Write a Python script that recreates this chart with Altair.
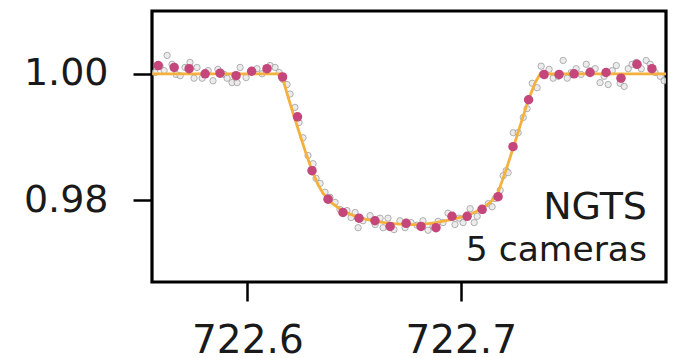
import altair as alt
import pandas as pd

# raw (unbinned) photometry
raw_time = [722.5567, 722.5591, 722.5610, 722.5624, 722.5647, 722.5666, 722.5685, 722.5708, 722.5731, 722.5750,
            722.5764, 722.5788, 722.5816, 722.5839, 722.5862, 722.5891, 722.5905, 722.5928, 722.5952, 722.5966,
            722.5994, 722.6022, 722.6045, 722.6069, 722.6088, 722.6106, 722.6130, 722.6149, 722.6167,
            722.6186, 722.6200, 722.6223, 722.6242, 722.6261, 722.6284, 722.6308, 722.6322, 722.6341, 722.6364,
            722.6387, 722.6411, 722.6434, 722.6467, 722.6486, 722.6505, 722.6519, 722.6542, 722.6575, 722.6599,
            722.6622, 722.6636, 722.6659, 722.6687, 722.6715, 722.6739, 722.6767, 722.6795, 722.6823, 722.6847,
            722.6870, 722.6894, 722.6917, 722.6940, 722.6973, 722.6992, 722.7011, 722.7044, 722.7063, 722.7077,
            722.7105, 722.7129, 722.7147, 722.7161, 722.7185, 722.7199, 722.7213, 722.7222, 722.7246, 722.7269,
            722.7293, 722.7311, 722.7335, 722.7358, 722.7377, 722.7395, 722.7414, 722.7433, 722.7457, 722.7480,
            722.7499, 722.7518, 722.7541, 722.7564, 722.7588, 722.7607, 722.7630, 722.7653, 722.7672, 722.7691,
            722.7710, 722.7729, 722.7747, 722.7766, 722.7785, 722.7803, 722.7822, 722.7846, 722.7869, 722.7888,
            722.7911, 722.7935, 722.7953]
raw_flux = [1.0002, 1.0012, 1.0005, 1.0029, 1.0015, 0.9999, 0.9997, 1.0010, 1.0018, 0.9993,
            1.0010, 0.9993, 1.0005, 0.9989, 1.0007, 0.9999, 0.9993, 0.9986, 0.9986, 1.0010,
            0.9994, 1.0005, 1.0008, 1.0000, 1.0005, 1.0013, 1.0010, 1.0002, 0.9991,
            0.9983, 0.9968, 0.9947, 0.9923, 0.9899, 0.9871, 0.9858, 0.9835, 0.9827, 0.9813,
            0.9805, 0.9797, 0.9786, 0.9784, 0.9773, 0.9781, 0.9757, 0.9768, 0.9776, 0.9762,
            0.9772, 0.9757, 0.9772, 0.9754, 0.9768, 0.9757, 0.9765, 0.9761, 0.9768, 0.9753,
            0.9759, 0.9767, 0.9765, 0.9780, 0.9762, 0.9772, 0.9765, 0.9787, 0.9765, 0.9775,
            0.9784, 0.9795, 0.9790, 0.9803, 0.9816, 0.9839, 0.9847, 0.9844, 0.9907, 0.9907,
            0.9931, 0.9945, 0.9985, 0.9978, 1.0012, 0.9997, 1.0007, 0.9993, 0.9996, 1.0021,
            0.9993, 1.0002, 1.0008, 0.9999, 1.0015, 1.0005, 1.0008, 0.9986, 0.9996, 0.9983,
            1.0005, 1.0013, 0.9985, 0.9980, 1.0008, 1.0015, 1.0018, 1.0008, 1.0021, 1.0015,
            1.0002, 0.9996, 0.9989]

# binned photometry
bin_time = [722.5582, 722.5657, 722.5727, 722.5802, 722.5872, 722.5947, 722.6020, 722.6092, 722.6165, 722.6235,
            722.6303, 722.6378, 722.6448, 722.6523, 722.6598, 722.6669, 722.6744, 722.6814, 722.6884, 722.6959,
            722.7030, 722.7100, 722.7175, 722.7245, 722.7318, 722.7390, 722.7461, 722.7531, 722.7606, 722.7681,
            722.7751, 722.7826, 722.7896]
bin_flux = [1.0013, 1.0010, 1.0008, 1.0000, 1.0001, 0.9997, 1.0004, 1.0008, 0.9995, 0.9932,
            0.9847, 0.9802, 0.9781, 0.9772, 0.9768, 0.9759, 0.9764, 0.9759, 0.9757, 0.9775,
            0.9775, 0.9786, 0.9806, 0.9885, 0.9959, 0.9999, 0.9999, 1.0000, 1.0002, 1.0002,
            0.9993, 1.0015, 1.0008]

# transit model
model_time = [722.5555, 722.6159, 722.6200, 722.6233, 722.6270, 722.6303, 722.6331, 722.6355, 722.6387, 722.6448,
              722.6523, 722.6598, 722.6669, 722.6744, 722.6814, 722.6884, 722.6959, 722.7030, 722.7100, 722.7138,
              722.7171, 722.7208, 722.7245, 722.7283, 722.7316, 722.7349, 722.7372, 722.7965]
model_flux = [1.0000, 1.0000, 0.9953, 0.9918, 0.9879, 0.9847, 0.9825, 0.9811, 0.9798, 0.9783,
              0.9773, 0.9767, 0.9764, 0.9762, 0.9762, 0.9765, 0.9770, 0.9776, 0.9787, 0.9797,
              0.9809, 0.9844, 0.9882, 0.9923, 0.9958, 0.9986, 1.0000, 1.0000]

x_ticks = [722.6, 722.7]
y_ticks = [0.98, 1.00]

raw = pd.DataFrame({"t": raw_time, "f": raw_flux})
binned = pd.DataFrame({"t": bin_time, "f": bin_flux})
model = pd.DataFrame({"t": model_time, "f": model_flux})

W, H = 514, 271
xs = alt.Scale(domain=[722.5553, 722.7962], nice=False, zero=False)
ys = alt.Scale(domain=[0.96713, 1.00991], nice=False, zero=False)

FONT = "DejaVu Sans"
xax = alt.Axis(values=x_ticks, format=".1f", title=None, grid=False, domain=False,
               tickColor="black", tickWidth=2.5, tickSize=19, labelFont=FONT, labelFontSize=39,
               labelColor="#1a1a1a", labelPadding=20, labelFlush=False)
yax = alt.Axis(values=y_ticks, format=".2f", title=None, grid=False, domain=False,
               tickColor="black", tickWidth=2.5, tickSize=19, labelFont=FONT, labelFontSize=38,
               labelColor="#1a1a1a", labelPadding=25)

raw_layer = alt.Chart(raw).mark_point(
    shape="circle", filled=True, fill="#e8e8e8", stroke="#9c9c9c", strokeWidth=1,
    size=40, opacity=0.8, clip=True
).encode(x=alt.X("t:Q", scale=xs, axis=xax), y=alt.Y("f:Q", scale=ys, axis=yax))

model_layer = alt.Chart(model).mark_line(color="#f5b13d", strokeWidth=2.8, clip=True).encode(
    x=alt.X("t:Q", scale=xs), y=alt.Y("f:Q", scale=ys))

bin_layer = alt.Chart(binned).mark_circle(color="#c4467b", size=90, opacity=1, clip=True).encode(
    x=alt.X("t:Q", scale=xs), y=alt.Y("f:Q", scale=ys))

lab1 = alt.Chart(pd.DataFrame({"s": ["NGTS"]})).mark_text(
    align="right", baseline="alphabetic", font=FONT, fontSize=38, color="#1a1a1a"
).encode(x=alt.value(495), y=alt.value(208), text="s:N")

lab2 = alt.Chart(pd.DataFrame({"s": ["5 cameras"]})).mark_text(
    align="right", baseline="alphabetic", font=FONT, fontSize=34.5, color="#1a1a1a"
).encode(x=alt.value(495), y=alt.value(250), text="s:N")

chart = alt.layer(raw_layer, model_layer, bin_layer, lab1, lab2).properties(
    width=W, height=H,
    autosize=alt.AutoSizeParams(type="none"),
    padding={"left": 144, "top": 3, "right": 16, "bottom": 76},
).configure(background="white").configure_view(stroke="black", strokeWidth=3.2)

chart.save("out.html", embed_options={"renderer": "svg", "actions": False})
